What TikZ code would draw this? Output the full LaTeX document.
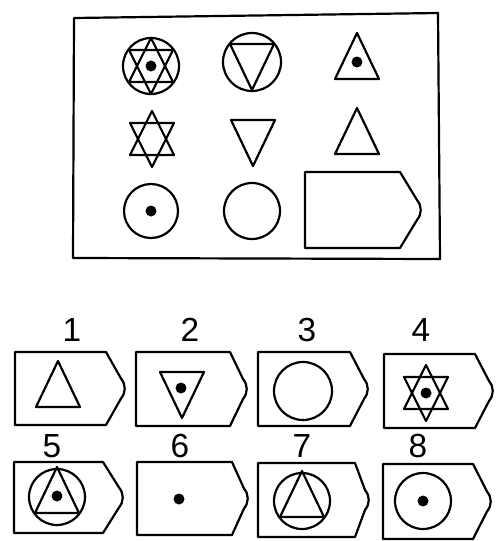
\documentclass[tikz,border=0pt]{standalone}
\usepackage{fontspec}
\setmainfont{Liberation Sans}
\begin{document}
\begin{tikzpicture}[x=0.02cm, y=-0.02cm, line width=1.25pt, line join=round,
        lbl/.style={font=\fontsize{19}{22}\selectfont, inner sep=0pt},
        pics/dot/.style={code={\fill (0,0) circle[radius=0.11cm];}},
        pics/star/.style={code={
            \draw (0,-28) -- (22,16) -- (-22,16) -- cycle;
            \draw (0,28) -- (22,-16) -- (-22,-16) -- cycle;}},
        pics/trup/.style={code={\draw (-22,0) -- (0,-46) -- (22,0) -- cycle;}},
        pics/trdown/.style={code={\draw (-22,0) -- (0,46) -- (22,0) -- cycle;}},
        pics/tagbox/.style n args={3}{code={
            \draw (0,0) -- (#1,0) -- ({#1+#3-5},{#2/2-10})
                .. controls ({#1+#3},{#2/2-4}) and ({#1+#3},{#2/2+4}) .. ({#1+#3-5},{#2/2+10})
                -- (#1,#2) -- (0,#2) -- cycle;}}]
    \useasboundingbox (0,0) rectangle (503,541);
    % matrix
    \draw (74,18) -- (438,13) -- (440,259) -- (73,258) -- cycle;
    \draw (151,66) circle[radius=0.56cm];
    \pic at (151,66) {star};
    \pic at (151,66) {dot};
    \draw (252,62) circle[radius=0.58cm];
    \pic at (252,44) {trdown};
    \pic at (357,79) {trup};
    \pic at (357,62) {dot};
    \pic at (152,139) {star};
    \pic at (253,120) {trdown};
    \pic at (357,154) {trup};
    \draw (151,211) circle[radius=0.54cm];
    \pic at (151,211) {dot};
    \draw (252,211) circle[radius=0.56cm];
    \pic at (305,172) {tagbox={95}{76}{22}};
    % answers
    \node[lbl] (l1) at (72,330) {1};
    \node[lbl] (l2) at (190,330) {2};
    \node[lbl] (l3) at (307,330) {3};
    \node[lbl] (l4) at (421,330) {4};
    \node[lbl] (l5) at (52,446) {5};
    \node[lbl] (l6) at (180,446) {6};
    \node[lbl] (l7) at (302,446) {7};
    \node[lbl] (l8) at (418,446) {8};
    \pic at (15,352) {tagbox={91}{73}{20}};
    \pic at (136,352) {tagbox={94}{74}{18}};
    \pic at (258,352) {tagbox={92}{74}{19}};
    \pic at (384,354) {tagbox={91}{74}{19}};
    \pic at (14,462) {tagbox={89}{71}{21}};
    \pic at (137,462) {tagbox={95}{73}{17}};
    \pic at (258,463) {tagbox={97}{74}{15}};
    \pic at (383,464) {tagbox={90}{75}{19}};
    \pic at (58,407) {trup};
    \pic at (182,372) {trdown};
    \pic at (181,388) {dot};
    \draw (303,391) circle[radius=0.58cm];
    \pic at (426,393) {star};
    \pic at (426,393) {dot};
    \draw (57,497) circle[radius=0.56cm];
    \pic at (57,513) {trup};
    \pic at (57,496) {dot};
    \pic at (179,499) {dot};
    \draw (302,501) circle[radius=0.56cm];
    \pic at (302,517) {trup};
    \draw (423,501) circle[radius=0.56cm];
    \pic at (423,501) {dot};
\end{tikzpicture}
\end{document}
